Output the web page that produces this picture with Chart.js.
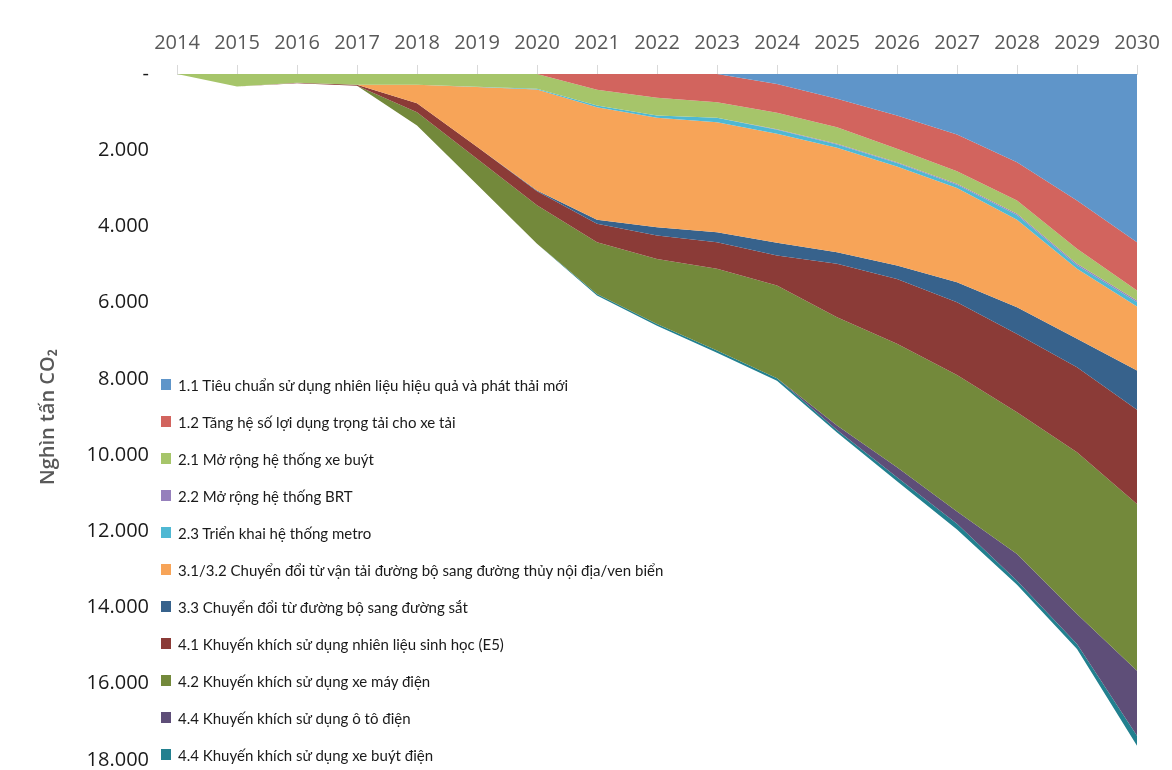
<!DOCTYPE html>
<html>
<head>
<meta charset="utf-8">
<script src="https://cdn.jsdelivr.net/npm/chart.js@4.4.1/dist/chart.umd.min.js"></script>
<style>
  html, body { margin: 0; padding: 0; background: #fff; }
  #wrap { position: relative; width: 1172px; height: 770px; }
  #legend { position: absolute; left: 161px; top: 366px; font-family: Lato, "Open Sans", sans-serif; font-size: 15px; color: #1a1a1a; }
  #legend .row { height: 37px; display: flex; align-items: center; white-space: nowrap; }
  #legend .box { width: 10px; height: 11px; margin-right: 7px; flex: none; }
</style>
</head>
<body>
<div id="wrap">
  <canvas id="chart"></canvas>
  <div id="legend"></div>
</div>
<script>
const years = ["2014", "2015", "2016", "2017", "2018", "2019", "2020", "2021", "2022", "2023", "2024", "2025", "2026", "2027", "2028", "2029", "2030"];

const names = [
  "1.1 Tiêu chuẩn sử dụng nhiên liệu hiệu quả và phát thải mới",
  "1.2 Tăng hệ số lợi dụng trọng tải cho xe tải",
  "2.1 Mở rộng hệ thống xe buýt",
  "2.2 Mở rộng hệ thống BRT",
  "2.3 Triển khai hệ thống metro",
  "3.1/3.2 Chuyển đổi từ vận tải đường bộ sang đường thủy nội địa/ven biển",
  "3.3 Chuyển đổi từ đường bộ sang đường sắt",
  "4.1 Khuyến khích sử dụng nhiên liệu sinh học (E5)",
  "4.2 Khuyến khích sử dụng xe máy điện",
  "4.4 Khuyến khích sử dụng ô tô điện",
  "4.4 Khuyến khích sử dụng xe buýt điện"
];

// thousand tonnes CO2 per measure, 2014..2030
const fuelStandard = [0, 0, 0, 0, 0, 0, 0, 0, 0, 0, 265, 651, 1089, 1590, 2315, 3320, 4414];
const truckLoad    = [0, 0, 0, 0, 0, 0, 0, 415, 625, 740, 755, 745, 874, 965, 1005, 1268, 1268];
const busNetwork   = [0, 330, 230, 280, 284, 336, 389, 412, 464, 410, 430, 436, 352, 325, 350, 394, 263];
const brt          = [0, 0, 0, 0, 0, 0, 0, 0, 0, 0, 10, 15, 20, 25, 30, 35, 40];
const metro        = [0, 0, 0, 0, 0, 5, 15, 43, 61, 115, 110, 90, 93, 85, 127, 96, 117];
const waterway     = [0, 0, 0, 0, 482, 1570, 2650, 2957, 2871, 2887, 2860, 2740, 2598, 2474, 2293, 1837, 1680];
const railway      = [0, 0, 0, 0, 0, 0, 20, 105, 218, 262, 330, 305, 350, 526, 699, 745, 1028];
const biofuel      = [0, 0, 10, 30, 236, 315, 373, 482, 612, 699, 790, 1401, 1705, 1910, 2057, 2231, 2471];
const eMotorbike   = [0, 0, 0, 0, 350, 674, 1006, 1356, 1706, 2144, 2430, 2843, 3239, 3580, 3717, 4242, 4375];
const eCar         = [0, 0, 0, 0, 0, 0, 0, 0, 0, 0, 0, 114, 263, 320, 701, 788, 1706];
const eBus         = [0, 0, 0, 0, 0, 0, 0, 40, 50, 60, 70, 69, 105, 150, 105, 131, 263];

const yTicks = [0, 2000, 4000, 6000, 8000, 10000, 12000, 14000, 16000, 18000];

const series = [fuelStandard, truckLoad, busNetwork, brt, metro, waterway, railway, biofuel, eMotorbike, eCar, eBus];
const colors = ["#5f95c9", "#d2645e", "#a6c56a", "#9680bc", "#4fb8d3", "#f7a458", "#37628c", "#8b3b37", "#73893b", "#5e4e78", "#22808f"];

function fmt(v) {
  if (v === 0) return "-";
  return String(v).replace(/\B(?=(\d{3})+(?!\d))/g, ".");
}

const datasets = series.map((data, i) => ({
  label: names[i],
  data: data,
  backgroundColor: colors[i],
  borderColor: colors[i],
  borderWidth: 0,
  pointRadius: 0,
  tension: 0,
  fill: i === 0 ? "origin" : "-1"
}));

new Chart(document.getElementById("chart"), {
  type: "line",
  data: { labels: years, datasets: datasets },
  options: {
    responsive: true,
    maintainAspectRatio: false,
    animation: false,
    layout: { padding: { top: 21, right: 35, bottom: 10, left: 0 } },
    plugins: { legend: { display: false }, tooltip: { enabled: false } },
    scales: {
      x: {
        position: "top",
        offset: false,
        grid: { drawOnChartArea: false, color: "#d9d9d9", tickLength: 9 },
        border: { color: "#d9d9d9" },
        ticks: { color: "#595959", font: { family: "'Open Sans'", size: 20 }, padding: 10, maxRotation: 0, autoSkip: false }
      },
      y: {
        stacked: true,
        reverse: true,
        min: 0,
        max: 18000,
        afterBuildTicks: (scale) => { scale.ticks = yTicks.map(v => ({ value: v })); },
        afterFit: (scale) => { scale.width = 177; scale.paddingTop = 0; scale.paddingBottom = 0; },
        grid: { display: false, drawTicks: false },
        border: { display: false },
        ticks: { color: "#1a1a1a", font: { family: "'Open Sans'", size: 20 }, padding: 28, callback: (v) => fmt(v) },
        title: {
          display: true,
          text: "Nghìn tấn CO₂",
          color: "#595959",
          font: { family: "'Open Sans'", size: 20, weight: "600" },
          padding: { top: 36, bottom: 0 }
        }
      }
    }
  }
});

const legend = document.getElementById("legend");
names.forEach((name, i) => {
  const row = document.createElement("div");
  row.className = "row";
  row.innerHTML = `<span class="box" style="background:${colors[i]}"></span><span>${name}</span>`;
  legend.appendChild(row);
});
</script>
</body>
</html>
